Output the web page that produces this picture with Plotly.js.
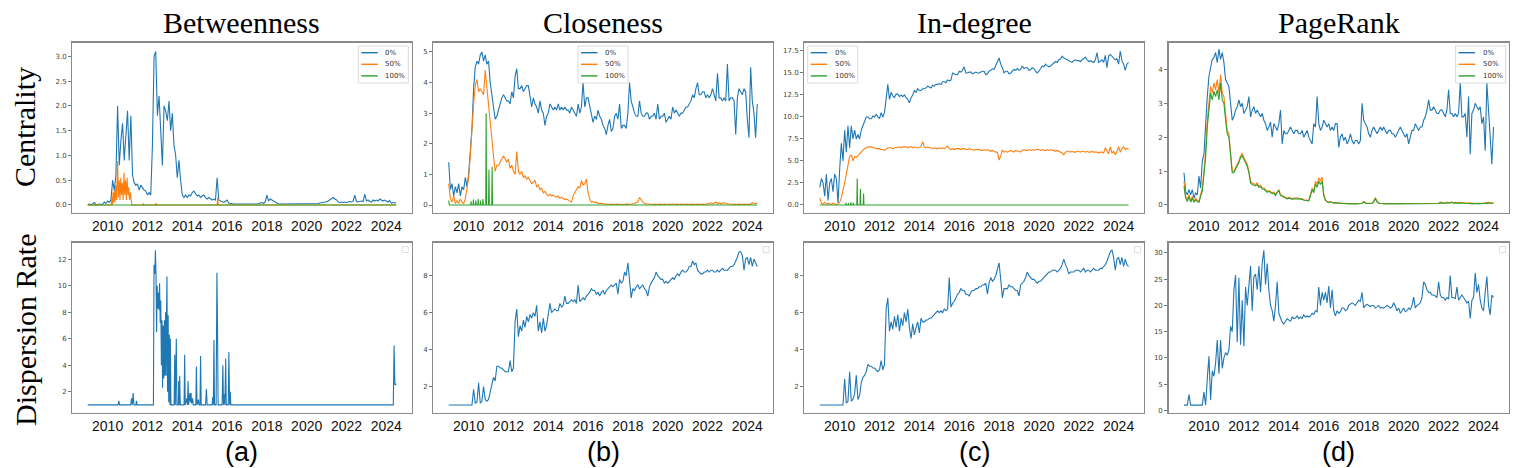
<!DOCTYPE html>
<html>
<head>
<meta charset="utf-8">
<script src="https://cdn.plot.ly/plotly-3.0.1.min.js"></script>
<style>
html,body{margin:0;padding:0;background:#fff;}
#chart{width:1518px;height:468px;}
</style>
</head>
<body>
<div id="chart"></div>
<script>
// ---------- time grid (monthly, Jan 2009 .. Jul 2024) ----------
const START_YEAR = 2009;
const N_MONTHS = 187;
const months = [];
for (let i = 0; i < N_MONTHS; i++) months.push(START_YEAR + i / 12);

const seriesNames = ['0%', '50%', '100%'];
const seriesColors = ['#1f77b4', '#ff7f0e', '#2ca02c'];
const columnTitles = ['Betweenness', 'Closeness', 'In-degree', 'PageRank'];
const rowTitles = ['Centrality', 'Dispersion Rate'];
const panelLetters = ['(a)', '(b)', '(c)', '(d)'];
const xTickYears = [2010, 2012, 2014, 2016, 2018, 2020, 2022, 2024];

// ---------- Betweenness centrality ----------
const betweenness0 = [
  0.01,0.02,0.01,0.02,0.05,0.01,0.01,0.02,0.01,0.02,0.06,0.03,
  0.08,0.05,0.1,0.5,0.3,0.6,2.0,0.8,1.3,1.65,0.9,1.4,
  1.9,0.9,1.8,0.6,0.45,0.4,0.42,0.3,0.4,0.35,0.3,0.28,
  0.2,0.25,0.2,1.2,3.0,3.1,1.8,2.2,1.6,0.8,2.0,1.9,
  1.7,2.1,1.5,1.85,1.2,1.0,0.55,0.9,0.5,0.2,0.15,0.2,
  0.15,0.2,0.18,0.25,0.28,0.22,0.18,0.2,0.15,0.18,0.2,0.15,
  0.12,0.15,0.13,0.1,0.12,0.1,0.55,0.1,0.08,0.06,0.05,0.07,
  0.1,0.04,0.03,0.03,0.02,0.02,0.02,0.02,0.02,0.02,0.02,0.02,
  0.02,0.02,0.02,0.02,0.02,0.02,0.03,0.02,0.04,0.05,0.03,0.06,
  0.2,0.08,0.12,0.1,0.08,0.05,0.03,0.02,0.02,0.02,0.02,0.02,
  0.02,0.02,0.02,0.02,0.02,0.02,0.02,0.02,0.02,0.02,0.02,0.02,
  0.02,0.02,0.02,0.02,0.02,0.02,0.03,0.03,0.04,0.05,0.05,0.06,
  0.06,0.08,0.1,0.12,0.15,0.12,0.1,0.06,0.05,0.06,0.05,0.06,
  0.05,0.06,0.07,0.06,0.08,0.2,0.07,0.06,0.07,0.08,0.07,0.22,
  0.08,0.1,0.07,0.06,0.1,0.08,0.1,0.08,0.12,0.1,0.08,0.1,
  0.07,0.06,0.09,0.04,0.05,0.04,0.05
];
const betweenness50 = [
  [2009.0,0],[2010.18,0],[2010.21,0.15],[2010.24,0],[2010.27,0.25],[2010.3,0.05],[2010.33,0.3],
  [2010.37,0.05],[2010.41,0.4],[2010.45,0.1],[2010.5,0.88],[2010.54,0.15],[2010.58,0.5],[2010.62,0.1],
  [2010.66,0.55],[2010.7,0.2],[2010.74,0.45],[2010.78,0.1],[2010.82,0.65],[2010.86,0.2],[2010.9,0.5],
  [2010.94,0.1],[2010.98,0.55],[2011.02,0.2],[2011.06,0.35],[2011.1,0.1],[2011.14,0.25],[2011.18,0.05],
  [2011.22,0],[2011.78,0],[2011.8,0.03],[2011.82,0],[2012.42,0],[2012.44,0.04],[2012.46,0],
  [2015.5,0],[2015.53,0.15],[2015.56,0],[2024.5,0]
];
const betweenness100 = [[2009.0,0],[2024.5,0]];

// ---------- Closeness centrality ----------
const closeness0 = [
  1.4,0.5,0.7,0.3,0.6,0.4,0.7,0.3,0.6,0.5,0.9,0.6,
  1.0,1.8,2.5,3.8,4.5,4.7,4.6,4.9,5.0,4.7,4.9,4.6,
  4.7,4.0,3.6,3.3,2.8,2.9,3.1,3.3,3.5,3.6,3.5,3.4,
  3.4,3.3,3.7,3.5,4.2,4.45,3.8,3.8,3.9,3.7,3.8,3.9,
  3.9,3.6,3.2,3.5,3.3,3.2,3.0,3.4,3.1,3.0,2.6,2.9,
  3.0,3.3,3.2,3.1,3.2,3.1,3.3,3.1,3.2,3.1,3.2,3.1,
  3.1,3.0,3.2,3.1,3.0,2.9,3.3,3.0,3.2,4.0,3.2,3.5,
  3.5,3.2,3.0,2.7,2.9,2.8,3.1,2.9,2.8,2.6,2.5,2.3,
  2.6,2.8,2.4,2.5,2.9,3.0,2.8,3.3,2.5,2.6,2.6,2.5,
  3.0,4.0,3.4,3.2,3.0,2.9,2.9,3.4,3.0,2.9,2.9,3.0,
  3.0,2.8,2.9,2.9,3.0,2.8,3.3,2.8,2.9,2.9,3.0,2.7,
  2.8,2.9,2.8,3.2,3.0,3.1,3.0,2.9,3.0,3.0,3.1,3.2,
  3.2,3.3,3.4,3.6,3.5,3.8,4.0,3.6,3.6,3.7,3.7,3.5,
  3.6,3.5,3.6,3.8,3.6,3.4,4.3,3.5,3.5,3.4,3.5,3.4,
  4.6,3.4,3.5,3.5,3.4,2.3,3.5,3.8,3.7,3.6,3.8,3.7,
  2.8,2.2,4.5,3.4,3.0,2.2,3.3
];
const closeness50 = [
  0.7,0.2,0.1,0.3,0.05,0.15,0.05,0.2,0.1,0.05,0.2,0.5,
  0.9,1.6,2.6,3.3,3.9,4.1,3.7,3.8,3.7,3.6,4.4,3.8,
  3.3,2.6,2.0,1.6,1.1,1.3,1.3,1.4,1.5,1.6,1.5,1.4,
  1.5,1.2,1.3,1.1,1.0,1.75,1.1,1.0,1.1,0.9,0.95,0.85,
  0.9,0.8,0.7,0.75,0.8,0.6,0.65,0.5,0.55,0.4,0.45,0.35,
  0.3,0.35,0.3,0.32,0.28,0.25,0.3,0.22,0.25,0.2,0.18,0.2,
  0.15,0.12,0.1,0.3,0.4,0.5,0.6,0.55,0.8,0.65,0.7,0.85,
  0.4,0.2,0.1,0.12,0.08,0.1,0.05,0.06,0.05,0.04,0.05,0.03,
  0.03,0.02,0.03,0.02,0.02,0.03,0.02,0.03,0.02,0.02,0.03,0.02,
  0.03,0.02,0.03,0.02,0.05,0.08,0.1,0.25,0.15,0.1,0.05,0.04,
  0.03,0.02,0.03,0.02,0.03,0.02,0.02,0.03,0.02,0.02,0.03,0.02,
  0.02,0.03,0.02,0.04,0.02,0.03,0.02,0.02,0.03,0.02,0.02,0.03,
  0.02,0.02,0.03,0.02,0.02,0.02,0.03,0.02,0.02,0.03,0.02,0.02,
  0.05,0.03,0.08,0.04,0.06,0.1,0.05,0.07,0.04,0.06,0.08,0.05,
  0.04,0.05,0.03,0.02,0.03,0.02,0.02,0.03,0.02,0.02,0.03,0.02,
  0.02,0.03,0.02,0.08,0.04,0.06,0.05
];
const closeness100 = [
  [2009.0,0.15],[2009.03,0],[2010.1,0],[2010.12,0.12],[2010.14,0],[2010.22,0],[2010.24,0.18],
  [2010.26,0],[2010.34,0],[2010.36,0.15],[2010.38,0],[2010.46,0],[2010.48,0.2],[2010.5,0],
  [2010.58,0],[2010.6,0.15],[2010.62,0],[2010.7,0],[2010.72,0.2],[2010.74,0],[2010.86,0],
  [2010.88,3.0],[2010.9,0],[2011.0,0],[2011.02,1.15],[2011.04,0],[2011.16,0],[2011.18,1.25],
  [2011.2,0],[2024.5,0]
];

// ---------- In-degree centrality ----------
const indegree0 = [
  2.0,3.0,2.5,1.0,3.5,0.5,2.5,3.0,1.5,3.5,3.0,0.2,
  4.0,7.0,5.0,8.5,6.0,9.0,6.5,9.0,7.5,8.5,7.5,8.0,
  7.5,8.5,9.0,9.5,10.0,10.0,9.8,9.8,10.1,10.0,10.3,10.0,
  9.8,10.5,10.0,10.5,12.5,13.7,12.0,12.8,12.4,12.2,12.6,12.6,
  12.3,12.5,12.3,12.5,12.2,12.0,11.6,12.2,12.5,13.0,12.8,13.2,
  13.0,13.0,13.2,13.2,13.3,13.5,13.4,13.3,13.6,13.5,13.7,13.7,
  13.8,13.7,14.0,14.0,13.9,14.2,14.1,14.2,15.0,14.9,14.8,14.8,
  15.2,15.1,15.3,15.7,15.0,15.0,15.1,15.1,14.9,15.0,15.1,15.0,
  15.0,15.1,15.2,15.2,14.8,14.9,15.2,15.3,15.5,15.4,15.9,16.2,
  16.7,16.0,15.6,15.0,15.2,15.2,14.9,15.0,15.2,15.4,15.3,15.5,
  15.3,15.4,15.8,15.5,15.6,15.6,15.3,15.4,15.6,15.5,15.2,15.0,
  15.2,15.5,15.8,15.7,16.0,15.8,15.7,15.8,16.0,16.1,16.3,16.2,
  16.5,16.6,16.9,16.7,16.6,16.5,16.4,16.3,16.2,16.4,16.5,16.4,
  16.4,16.3,16.5,16.6,16.8,16.5,16.3,16.4,16.3,16.2,16.5,17.3,
  16.2,16.4,16.5,16.2,17.0,15.6,16.9,17.1,16.9,16.8,16.5,16.6,
  16.0,17.5,16.4,16.0,15.3,16.0,16.2
];
const indegree50 = [
  0.8,0.2,0.1,0.3,0.05,0.2,0.1,0.05,0.2,0.1,0.05,0.1,
  0.3,0.8,1.5,2.5,3.5,4.5,5.5,5.7,5.0,5.5,5.4,5.6,
  5.8,6.1,6.2,6.4,6.5,6.6,6.6,6.6,6.5,6.5,6.4,6.4,
  6.4,6.3,6.3,6.2,6.4,6.5,6.5,6.5,6.4,6.5,6.5,6.5,
  6.6,6.5,6.6,6.6,6.6,6.5,6.6,6.6,6.5,6.6,6.5,6.5,
  6.5,6.6,7.2,6.6,6.5,6.6,6.5,6.5,6.4,6.5,6.4,6.4,
  6.5,6.4,6.5,6.4,6.6,6.7,6.4,6.3,6.4,6.3,6.4,6.4,
  6.4,6.3,6.4,6.4,6.3,6.3,6.4,6.3,6.3,6.2,6.3,6.3,
  6.3,6.2,6.2,6.3,6.2,6.3,6.2,6.1,6.2,6.1,6.0,6.0,
  5.1,5.6,6.2,6.0,6.1,6.0,6.1,6.2,6.1,6.0,6.2,6.1,
  6.1,6.0,6.2,6.3,6.2,6.2,6.3,6.2,6.3,6.2,6.3,6.3,
  6.3,6.2,6.3,6.2,6.2,6.3,6.2,6.3,6.2,6.2,6.1,6.2,
  6.1,6.0,5.9,5.7,6.0,6.1,6.1,6.0,6.1,6.0,6.0,6.1,
  6.1,6.0,6.1,6.1,6.0,6.1,6.0,6.0,6.1,6.0,6.0,6.0,
  5.9,6.0,6.0,5.9,6.5,6.2,5.8,6.6,5.9,6.1,5.7,6.1,
  6.6,6.0,6.4,6.6,6.3,6.4,6.4
];
const indegree100 = [
  [2009.0,0],[2010.3,0],[2010.32,0.25],[2010.34,0],[2010.42,0],[2010.44,0.2],[2010.46,0],
  [2010.54,0],[2010.56,0.3],[2010.58,0],[2010.66,0],[2010.68,0.25],[2010.7,0],[2010.86,0],
  [2010.88,3.0],[2010.9,0],[2011.02,0],[2011.04,1.8],[2011.06,0],[2011.18,0],[2011.2,1.3],
  [2011.22,0],[2024.5,0]
];

// ---------- PageRank centrality ----------
const pagerank0 = [
  0.95,0.4,0.3,0.45,0.3,0.45,0.2,0.35,0.3,0.85,0.5,1.3,
  1.5,2.5,3.2,3.8,4.1,4.3,4.35,4.5,4.2,4.6,4.3,4.5,
  4.2,3.7,3.6,3.5,3.0,2.5,2.6,2.8,2.9,3.1,2.9,3.0,
  2.7,2.8,2.9,3.2,2.6,2.8,2.9,2.7,2.8,2.7,2.6,2.7,
  2.5,2.4,2.2,2.3,2.45,2.0,2.4,2.3,2.2,2.4,2.8,1.8,
  2.2,2.1,2.1,2.2,2.3,2.2,2.1,2.2,2.2,2.1,2.1,2.2,
  2.0,2.1,2.2,2.0,1.9,1.8,2.4,2.3,3.2,2.4,2.2,2.3,
  2.5,2.4,2.3,2.4,2.2,2.3,2.2,2.4,2.4,1.7,2.0,2.1,
  1.9,2.0,1.8,1.9,2.1,1.9,1.8,1.9,1.9,1.8,1.9,3.0,
  2.5,2.4,2.3,2.1,2.0,2.2,2.3,2.2,2.1,2.2,2.3,2.2,
  2.3,2.2,2.1,2.2,2.2,2.1,2.1,2.0,2.1,2.2,2.3,2.2,
  2.1,2.0,2.1,1.8,2.0,2.2,2.2,2.4,2.3,2.2,2.3,2.3,
  2.5,2.6,2.8,3.1,2.8,2.8,2.9,2.8,2.7,2.7,2.8,2.8,
  2.7,2.6,2.8,3.4,2.7,2.7,2.6,2.7,2.6,2.7,3.6,2.6,
  2.6,2.7,2.0,3.2,1.5,2.7,2.8,3.0,2.9,2.8,2.9,2.4,
  2.6,1.6,3.6,2.7,2.0,1.2,2.3
];
const pagerank50 = [
  0.7,0.25,0.15,0.3,0.1,0.25,0.1,0.2,0.15,0.1,0.3,0.5,
  1.0,1.6,2.5,3.0,3.5,3.3,3.6,3.4,3.7,3.3,3.85,3.3,
  3.2,2.7,2.2,2.1,1.6,1.0,1.0,1.1,1.2,1.3,1.45,1.52,
  1.4,1.3,1.2,1.0,0.7,0.65,0.62,0.6,0.65,0.55,0.58,0.5,
  0.5,0.45,0.4,0.42,0.4,0.35,0.38,0.3,0.4,0.45,0.3,0.28,
  0.25,0.22,0.2,0.22,0.2,0.18,0.2,0.2,0.18,0.2,0.17,0.18,
  0.15,0.14,0.12,0.13,0.3,0.5,0.4,0.7,0.6,0.8,0.7,0.82,
  0.3,0.15,0.1,0.08,0.1,0.07,0.06,0.07,0.06,0.05,0.06,0.05,
  0.05,0.04,0.05,0.04,0.04,0.05,0.04,0.03,0.04,0.03,0.04,0.05,
  0.1,0.06,0.05,0.05,0.06,0.05,0.1,0.22,0.1,0.06,0.05,0.04,
  0.05,0.04,0.04,0.05,0.04,0.04,0.05,0.04,0.04,0.04,0.05,0.04,
  0.04,0.05,0.04,0.04,0.05,0.04,0.04,0.05,0.04,0.04,0.04,0.05,
  0.04,0.04,0.05,0.04,0.05,0.04,0.04,0.05,0.06,0.05,0.08,0.06,
  0.07,0.05,0.08,0.06,0.07,0.09,0.06,0.08,0.07,0.06,0.08,0.07,
  0.06,0.07,0.05,0.06,0.05,0.04,0.05,0.04,0.05,0.04,0.05,0.04,
  0.05,0.06,0.05,0.08,0.06,0.05,0.06
];
const pagerank100 = [
  0.55,0.2,0.1,0.25,0.08,0.2,0.08,0.15,0.1,0.08,0.25,0.4,
  0.9,1.4,2.3,2.8,3.3,3.1,3.35,3.2,3.4,3.1,3.6,3.1,
  3.0,2.5,2.1,2.0,1.5,0.95,0.95,1.05,1.15,1.25,1.4,1.45,
  1.35,1.25,1.15,0.95,0.65,0.6,0.58,0.56,0.6,0.52,0.54,0.47,
  0.47,0.42,0.37,0.4,0.37,0.33,0.35,0.28,0.37,0.42,0.28,0.26,
  0.23,0.2,0.18,0.2,0.18,0.17,0.18,0.18,0.17,0.18,0.16,0.17,
  0.14,0.13,0.11,0.12,0.27,0.45,0.36,0.62,0.52,0.7,0.6,0.7,
  0.27,0.13,0.09,0.07,0.09,0.06,0.05,0.06,0.05,0.04,0.05,0.04,
  0.04,0.03,0.04,0.03,0.03,0.04,0.03,0.03,0.03,0.03,0.03,0.04,
  0.09,0.05,0.04,0.04,0.05,0.04,0.09,0.19,0.09,0.05,0.04,0.03,
  0.04,0.03,0.03,0.04,0.03,0.03,0.04,0.03,0.03,0.03,0.04,0.03,
  0.03,0.04,0.03,0.03,0.04,0.03,0.03,0.04,0.03,0.03,0.03,0.04,
  0.03,0.03,0.04,0.03,0.04,0.03,0.03,0.04,0.05,0.04,0.06,0.05,
  0.06,0.04,0.06,0.05,0.06,0.07,0.05,0.06,0.06,0.05,0.06,0.06,
  0.05,0.06,0.04,0.05,0.04,0.03,0.04,0.03,0.04,0.03,0.04,0.03,
  0.04,0.05,0.04,0.06,0.05,0.04,0.05
];

// ---------- Dispersion rates ----------
const betweennessDispersion = [
  [2009.0,1],[2010.52,1],[2010.56,1.3],[2010.6,1],[2011.16,1],[2011.2,1.5],[2011.24,1],[2011.28,1.9],
  [2011.32,1],[2011.42,1],[2011.45,1.3],[2011.48,1],
  [2012.3,1],[2012.33,11.6],[2012.37,10.9],[2012.4,12.7],[2012.43,10.8],[2012.46,6.5],[2012.49,10.0],
  [2012.52,8.3],[2012.55,9.5],[2012.58,8.2],[2012.61,10.2],[2012.64,7.2],[2012.67,8.9],[2012.7,4.0],
  [2012.73,7.4],[2012.76,2.3],[2012.79,7.0],[2012.82,3.0],[2012.85,7.4],[2012.88,3.2],[2012.91,8.0],
  [2012.94,3.2],[2012.96,8.2],[2012.98,10.7],[2013.01,2.0],[2013.04,7.8],[2013.07,1.2],[2013.1,6.3],
  [2013.13,1.0],[2013.15,6.0],[2013.18,1.0],
  [2013.34,1],[2013.37,4.8],[2013.4,1],[2013.45,6.0],[2013.48,1],[2013.55,1],[2013.57,2.8],[2013.59,1],
  [2013.62,3.2],[2013.65,1],
  [2013.84,1],[2013.87,4.8],[2013.9,1],[2013.98,1.5],[2014.01,1],[2014.04,2.8],[2014.07,1],[2014.13,1.9],
  [2014.16,1.2],[2014.19,1.9],[2014.22,1.1],[2014.27,1.5],[2014.3,1],
  [2014.43,1],[2014.46,3.9],[2014.49,1],[2014.56,1.4],[2014.59,1],[2014.64,1],[2014.67,4.7],[2014.7,1],
  [2014.92,1],[2014.96,2.2],[2015.0,1],
  [2015.25,1],[2015.28,1.6],[2015.31,1],[2015.34,5.9],[2015.37,1],[2015.45,1],[2015.49,11.0],[2015.52,7.0],
  [2015.55,1],
  [2015.75,1],[2015.79,4.0],[2015.82,1],[2015.86,1.8],[2015.89,1],[2015.93,4.5],[2015.96,1],[2016.06,1],
  [2016.09,5.0],[2016.13,1],[2016.16,2.0],[2016.19,1],
  [2024.35,1],[2024.39,5.5],[2024.43,2.5],[2024.5,2.6]
];
const closenessDispersion = [
  1,1,1,1,1,1,1,1,1,1,1,1,
  1.0,1.0,1.0,1.85,1.1,1.15,2.2,1.1,1.2,2.0,1.3,1.2,
  1.3,1.7,2.2,2.5,2.3,3.1,3.1,3.0,3.0,2.9,2.8,2.8,
  2.8,3.4,2.8,3.0,5.5,6.2,4.7,5.3,5.0,5.6,5.2,5.8,
  5.5,5.9,5.7,6.0,5.8,6.4,5.0,5.5,4.9,5.7,5.0,5.3,
  5.9,6.5,6.0,6.1,6.2,6.1,6.1,6.5,6.3,6.4,6.9,6.5,
  6.5,6.6,6.7,6.6,6.7,6.5,7.5,6.6,6.7,6.8,6.7,6.9,
  7.0,7.1,7.3,7.2,7.2,7.0,7.1,6.9,7.1,7.2,7.0,7.2,
  7.3,7.4,7.5,7.4,7.5,7.6,7.0,7.8,7.6,7.7,8.2,8.0,
  8.7,7.8,6.8,7.3,7.2,7.4,7.5,7.3,7.4,7.5,7.3,7.2,
  6.9,7.4,7.6,7.8,7.9,8.2,8.0,7.9,7.8,7.8,7.6,7.7,
  7.6,7.7,7.8,7.9,7.8,8.0,8.1,8.0,8.2,8.3,8.2,8.2,
  8.3,8.5,8.5,8.8,8.6,8.7,8.3,8.2,8.1,8.1,8.2,8.2,
  8.3,8.2,8.3,8.3,8.2,8.2,8.3,8.2,8.3,8.4,8.3,8.3,
  8.3,8.4,8.5,8.5,8.6,8.8,9.0,9.3,9.3,9.1,8.3,8.9,
  9.0,8.6,9.0,8.5,8.9,8.7,8.5
];
const indegreeDispersion = [
  1,1,1,1,1,1,1,1,1,1,1,1,
  1.0,1.0,1.0,2.4,1.1,1.2,2.8,1.2,1.3,1.6,2.6,1.3,
  1.5,2.2,2.5,2.6,2.8,3.2,3.1,3.1,3.0,3.0,2.9,2.8,
  2.9,3.4,2.9,3.2,6.2,6.8,5.0,5.5,5.1,5.8,5.2,5.9,
  5.0,5.7,5.3,6.0,5.5,6.2,5.2,4.6,5.4,4.8,5.2,5.5,
  4.9,5.7,5.5,5.5,5.6,5.6,5.7,5.7,5.8,5.9,6.0,6.1,
  6.0,6.1,6.0,6.2,6.1,6.2,7.9,6.3,6.5,6.6,6.8,7.0,
  7.1,7.3,7.2,7.2,7.0,7.0,6.9,7.1,7.2,7.2,7.3,7.3,
  7.4,7.4,7.5,7.5,7.6,7.0,7.6,7.9,7.7,7.8,8.0,8.3,
  8.7,7.8,6.8,7.3,7.3,7.3,7.5,7.4,7.4,7.3,7.2,7.2,
  6.9,7.5,7.6,7.7,7.9,8.2,8.0,7.9,7.8,7.8,7.7,7.6,
  7.7,7.7,7.8,7.9,8.0,8.1,8.2,8.2,8.3,8.3,8.3,8.2,
  8.3,8.4,8.6,8.9,8.6,8.4,8.1,8.2,8.2,8.2,8.3,8.3,
  8.3,8.2,8.3,8.4,8.2,8.3,8.3,8.2,8.3,8.4,8.3,8.3,
  8.3,8.4,8.4,8.5,8.6,8.8,9.1,9.3,9.4,9.0,8.3,8.9,
  9.0,8.6,9.0,8.5,8.9,8.6,8.5
];
const pagerankDispersion = [
  1,1,1,3.0,1,1,1,1,1,1,1,1,
  3.5,1.0,6.0,10.3,2.0,7.5,6.5,9.0,13.4,7.0,13.4,8.0,
  10.0,11.0,10.5,11.5,16.0,15.0,23.0,25.8,13.0,25.3,12.5,21.0,
  12.2,23.5,20.0,23.5,27.5,19.0,25.5,26.0,23.0,27.5,22.5,28.0,
  30.5,24.0,28.0,23.0,20.0,19.0,17.0,20.0,24.5,18.5,17.5,16.8,
  16.5,17.0,17.5,17.2,17.0,17.8,17.5,17.6,18.0,17.5,17.8,17.5,
  18.2,17.8,18.0,17.8,18.0,18.5,18.3,19.0,18.8,23.5,20.0,22.5,
  21.0,22.5,20.5,23.7,19.5,23.0,19.0,18.0,19.0,18.5,18.8,19.5,
  19.5,19.0,19.2,20.0,20.2,20.5,20.3,20.0,20.5,21.0,20.8,22.5,
  19.5,20.0,20.2,20.0,19.8,20.0,20.0,19.5,19.8,20.0,19.5,19.6,
  19.5,19.8,20.0,19.8,19.5,19.7,20.5,19.8,19.0,19.5,18.5,19.0,
  19.5,18.8,19.0,19.5,19.2,20.0,21.6,19.5,20.0,20.2,20.5,21.5,
  24.5,24.0,23.0,22.5,22.5,22.0,22.0,21.8,21.5,24.5,22.0,21.5,
  21.5,21.0,21.5,21.2,25.7,21.5,21.5,21.3,23.5,21.0,21.5,22.0,
  21.5,21.0,20.5,20.8,17.5,21.0,21.5,26.2,22.5,24.0,21.0,19.5,
  19.0,22.5,25.5,20.0,18.2,22.0,21.5
];

// ---------- axis settings (tick values & ranges) ----------
const yTickVals = [
  [0,0.5,1.0,1.5,2.0,2.5,3.0],
  [0,1,2,3,4,5],
  [0,2.5,5.0,7.5,10.0,12.5,15.0,17.5],
  [0,1,2,3,4],
  [2,4,6,8,10,12],
  [2,4,6,8],
  [2,4,6,8],
  [0,5,10,15,20,25,30]
];
const yTickFormats = ['.1f','d','.1f','d','d','d','d','d'];
const yRanges = [
  [-0.156,3.276],[-0.25,5.3],[-0.88,18.44],[-0.23,4.79],
  [0.41,13.28],[0.58,9.8],[0.58,9.8],[-0.45,32]
];
const xRange = [2008.225, 2025.275];

// ---------- layout geometry ----------
const W = 1518, H = 468;
const colPx = [[72.3,411.7],[433.3,772.7],[804.3,1144],[1168.5,1509]];
const rowPx = [[42.7,212.7],[242.5,412.7]];
const legendPlacement = ['right','center','left','right'];

// ---------- build traces ----------
const traces = [];
function monthly(arr) { return months.slice(0, arr.length); }
function addMonthly(panel, arr, k) {
  traces.push({
    type:'scatter', mode:'lines', x: monthly(arr), y: arr,
    xaxis: 'x' + (panel === 1 ? '' : panel), yaxis: 'y' + (panel === 1 ? '' : panel),
    name: seriesNames[k], line:{color: seriesColors[k], width:1.1}, showlegend:false, hoverinfo:'skip'
  });
}
function addPairs(panel, pairs, k) {
  traces.push({
    type:'scatter', mode:'lines', x: pairs.map(p => p[0]), y: pairs.map(p => p[1]),
    xaxis: 'x' + (panel === 1 ? '' : panel), yaxis: 'y' + (panel === 1 ? '' : panel),
    name: seriesNames[k], line:{color: seriesColors[k], width:1.1}, showlegend:false, hoverinfo:'skip'
  });
}
addMonthly(1, betweenness0, 0); addPairs(1, betweenness50, 1); addPairs(1, betweenness100, 2);
addMonthly(2, closeness0, 0); addMonthly(2, closeness50, 1); addPairs(2, closeness100, 2);
addMonthly(3, indegree0, 0); addMonthly(3, indegree50, 1); addPairs(3, indegree100, 2);
addMonthly(4, pagerank0, 0); addMonthly(4, pagerank50, 1); addMonthly(4, pagerank100, 2);
addPairs(5, betweennessDispersion, 0);
addMonthly(6, closenessDispersion, 0);
addMonthly(7, indegreeDispersion, 0);
addMonthly(8, pagerankDispersion, 0);

// ---------- layout ----------
const layout = {
  width: W, height: H, margin:{l:0,r:0,t:0,b:0},
  paper_bgcolor:'#fff', plot_bgcolor:'#fff', showlegend:false,
  annotations: [], shapes: []
};
for (let p = 1; p <= 8; p++) {
  const c = (p - 1) % 4, r = Math.floor((p - 1) / 4);
  const sfx = p === 1 ? '' : p;
  layout['xaxis' + sfx] = {
    domain:[colPx[c][0]/W, colPx[c][1]/W], anchor:'y' + sfx, range:xRange,
    tickvals:xTickYears, ticktext:xTickYears.map(String),
    ticks:'', showgrid:false, zeroline:false,
    showline:true, mirror:true, linecolor:'#8a8a8a', linewidth:1.3,
    tickfont:{family:'Liberation Sans, Arial, sans-serif', size:14, color:'#111'}
  };
  layout['yaxis' + sfx] = {
    domain:[1 - rowPx[r][1]/H, 1 - rowPx[r][0]/H], anchor:'x' + sfx, range:yRanges[p-1],
    tickvals:yTickVals[p-1], tickformat:yTickFormats[p-1],
    ticks:'outside', ticklen:3, tickwidth:0.8, tickcolor:'#555',
    showgrid:false, zeroline:false,
    showline:true, mirror:true, linecolor:'#8a8a8a', linewidth:1.3,
    tickfont:{family:'DejaVu Sans, sans-serif', size:7, color:'#444'}
  };
}

// manual legends (matplotlib-style) for the top row
for (let c = 0; c < 4; c++) {
  const sfx = c === 0 ? '' : c + 1;
  const pw = colPx[c][1] - colPx[c][0], ph = rowPx[0][1] - rowPx[0][0];
  const bw = 50, bh = 37, pad = 3.4;
  let left;
  if (legendPlacement[c] === 'right') left = pw - pad - bw;
  else if (legendPlacement[c] === 'left') left = pad;
  else left = (pw - bw) / 2;
  const top = 3.3;
  const xr = 'x' + sfx + ' domain', yr = 'y' + sfx + ' domain';
  layout.shapes.push({type:'rect', xref:xr, yref:yr,
    x0:left/pw, x1:(left+bw)/pw, y0:1-(top+bh)/ph, y1:1-top/ph,
    fillcolor:'rgba(255,255,255,0.85)', line:{color:'#d0d0d0', width:0.8}, layer:'above'});
  for (let k = 0; k < 3; k++) {
    const yy = 1 - (top + 6.7 + k*11.6)/ph;
    layout.shapes.push({type:'line', xref:xr, yref:yr,
      x0:(left+3)/pw, x1:(left+19.5)/pw, y0:yy, y1:yy,
      line:{color:seriesColors[k], width:1.4}, layer:'above'});
    layout.annotations.push({xref:xr, yref:yr, x:(left+25)/pw, y:yy,
      xanchor:'left', yanchor:'middle', showarrow:false, text:seriesNames[k],
      font:{family:'DejaVu Sans, sans-serif', size:7, color:'#333'}});
  }
}
// empty legend boxes in the bottom row
for (let c = 0; c < 4; c++) {
  const p = c + 5;
  const pw = colPx[c][1] - colPx[c][0], ph = rowPx[1][1] - rowPx[1][0];
  layout.shapes.push({type:'rect', xref:'x'+p+' domain', yref:'y'+p+' domain',
    x0:(pw-9.5)/pw, x1:(pw-3.5)/pw, y0:1-10/ph, y1:1-4/ph,
    fillcolor:'#fff', line:{color:'#d6d6d6', width:0.8}});
}

// column titles
for (let c = 0; c < 4; c++) {
  layout.annotations.push({xref:'paper', yref:'paper',
    x:(colPx[c][0]+colPx[c][1])/2/W, y:1-22/H, xanchor:'center', yanchor:'middle',
    showarrow:false, text:columnTitles[c],
    font:{family:'Liberation Serif, Times New Roman, serif', size:30, color:'#000'}});
  layout.annotations.push({xref:'paper', yref:'paper',
    x:(colPx[c][0]+colPx[c][1])/2/W, y:1-452/H, xanchor:'center', yanchor:'middle',
    showarrow:false, text:panelLetters[c],
    font:{family:'Liberation Sans, Arial, sans-serif', size:27, color:'#000'}});
}
// row titles
const rowCentersPx = [127, 330];
for (let r = 0; r < 2; r++) {
  layout.annotations.push({xref:'paper', yref:'paper', x:25/W, y:1-rowCentersPx[r]/H,
    xanchor:'center', yanchor:'middle', textangle:-90, showarrow:false, text:rowTitles[r],
    font:{family:'Liberation Serif, Times New Roman, serif', size:30, color:'#000'}});
}

Plotly.newPlot('chart', traces, layout, {staticPlot:true, displayModeBar:false});
</script>
</body>
</html>
